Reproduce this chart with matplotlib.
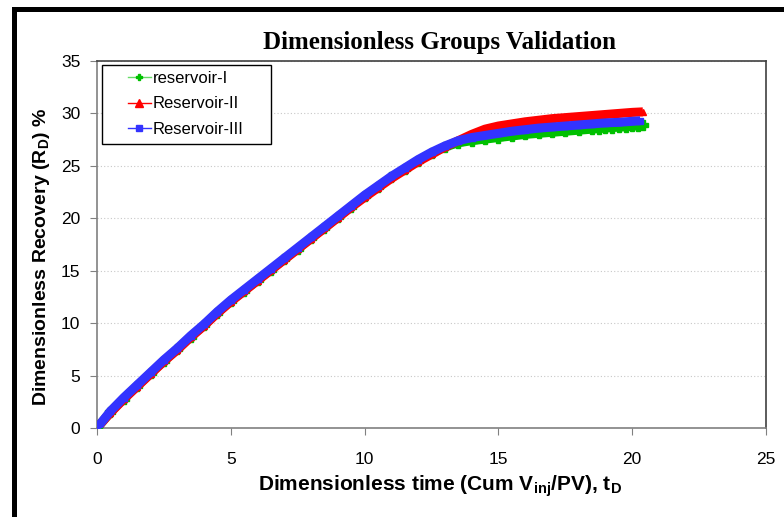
import matplotlib
matplotlib.use("Agg")
import matplotlib.pyplot as plt
from matplotlib.patches import Rectangle

plt.rcParams["font.family"] = ["Liberation Sans", "DejaVu Sans"]
plt.rcParams["mathtext.fontset"] = "custom"
plt.rcParams["mathtext.bf"] = "Liberation Sans:bold"
plt.rcParams["mathtext.rm"] = "Liberation Sans"

# Data
x_res1 = [0, 0.5, 1, 1.5, 2, 2.5, 3, 3.5, 4, 4.5, 5, 5.5, 6, 6.5, 7, 7.5, 8, 8.5, 9, 9.5,
          10, 10.5, 11, 11.5, 12, 12.5, 13, 13.5, 14, 14.5, 15, 15.5, 16, 16.5, 17, 17.5,
          18, 18.5, 18.75, 19, 19.25, 19.5, 19.75, 20, 20.2, 20.4]
y_res1 = [0, 1.5, 2.8, 4.0, 5.2, 6.4, 7.5, 8.7, 9.8, 11.0, 12.1, 13.1, 14.1, 15.1, 16.1, 17.1,
          18.1, 19.1, 20.1, 21.1, 22.1, 23.0, 23.9, 24.7, 25.5, 26.2, 26.8, 27.2, 27.4, 27.55,
          27.7, 27.85, 28.0, 28.1, 28.2, 28.3, 28.4, 28.5, 28.55, 28.6, 28.65, 28.7, 28.72,
          28.78, 28.82, 28.85]

x_res2 = [0, 0.5, 1, 1.5, 2, 2.5, 3, 3.5, 4, 4.5, 5, 5.5, 6, 6.5, 7, 7.5, 8, 8.5, 9, 9.5,
          10, 10.5, 11, 11.5, 12, 12.5, 13, 13.5, 14, 14.5, 15, 15.5, 16, 16.5, 17, 17.5,
          18, 18.5, 19, 19.5, 20, 20.4]
y_res2 = [0, 1.45, 2.75, 3.95, 5.15, 6.35, 7.45, 8.65, 9.75, 10.95, 12.05, 13.05, 14.05, 15.05,
          16.05, 17.05, 18.05, 19.05, 20.05, 21.05, 22.0, 22.9, 23.8, 24.6, 25.4, 26.1, 26.8,
          27.4, 28.0, 28.5, 28.8, 29.0, 29.2, 29.35, 29.5, 29.6, 29.7, 29.8, 29.9, 30.0, 30.1,
          30.15]

x_res3 = [0, 0.5, 1, 1.5, 2, 2.5, 3, 3.5, 4, 4.5, 5, 5.5, 6, 6.5, 7, 7.5, 8, 8.5, 9, 9.5,
          10, 10.5, 11, 11.5, 12, 12.5, 13, 13.5, 14, 14.5, 15, 15.5, 16, 16.5, 17, 17.5,
          18, 18.5, 19, 19.5, 20, 20.3]
y_res3 = [0, 1.6, 2.9, 4.1, 5.3, 6.5, 7.6, 8.8, 9.9, 11.1, 12.2, 13.2, 14.2, 15.2, 16.2, 17.2,
          18.2, 19.2, 20.2, 21.2, 22.2, 23.1, 24.0, 24.8, 25.6, 26.3, 26.9, 27.4, 27.7, 27.9,
          28.1, 28.3, 28.45, 28.6, 28.7, 28.8, 28.9, 29.0, 29.1, 29.15, 29.25, 29.3]

W, H = 784, 517
fig = plt.figure(figsize=(W / 100, H / 100), dpi=100)
ax = fig.add_axes([97 / W, 1 - 428 / H, (766 - 97) / W, (428 - 61) / H])

ax.plot(x_res1, y_res1, color="#00c000", lw=6.5, solid_capstyle="butt", zorder=3)
ax.plot(x_res1, y_res1, color="#00c000", ls="none", marker="P", ms=7, zorder=3)
ax.plot(x_res2, y_res2, color="#ff0000", lw=6.5, solid_capstyle="butt", zorder=4)
ax.plot(x_res2, y_res2, color="#ff0000", ls="none", marker="^", ms=5, zorder=4)
ax.plot(x_res3, y_res3, color="#3333ff", lw=6.5, solid_capstyle="butt", zorder=5)
ax.plot(x_res3, y_res3, color="#3333ff", ls="none", marker="s", ms=5, zorder=5)

# legend handles
h1, = ax.plot([], [], color="#66dd66", lw=1, marker="P", mfc="#00c000", mec="#00c000", ms=5)
h2, = ax.plot([], [], color="#ff0000", lw=1, marker="^", mfc="#ff0000", mec="#ff0000", ms=6)
h3, = ax.plot([], [], color="#3333ff", lw=1, marker="s", mfc="#3333ff", mec="#3333ff", ms=5)
leg = fig.legend([h1, h2, h3], ["reservoir-I", "Reservoir-II", "Reservoir-III"],
                 loc="upper left", bbox_to_anchor=(128 / W, 1 - 71 / H),
                 fontsize=12, frameon=False, handlelength=1.35, handletextpad=0.15,
                 borderpad=0, borderaxespad=0, labelspacing=0.62)
# legend frame
fig.add_artist(Rectangle((102 / W, 1 - 144 / H), (271 - 102) / W, (144 - 65) / H,
                         transform=fig.transFigure, facecolor="white", edgecolor="black",
                         lw=1.0, zorder=2))
leg.set_zorder(3)

ax.set_xlim(0, 25)
ax.set_ylim(0, 35)
ax.set_xticks(range(0, 26, 5))
ax.set_yticks(range(0, 36, 5))
ax.tick_params(labelsize=12.5, direction="out", length=5, color="#808080")
ax.tick_params(axis="x", pad=12)
ax.tick_params(axis="y", pad=7)
ax.yaxis.grid(True, linestyle=(0, (1, 2)), color="#c8c8c8", lw=0.8)
ax.set_axisbelow(True)

for side in ["left", "bottom"]:
    ax.spines[side].set_color("#808080")
    ax.spines[side].set_linewidth(1.2)
for side in ["top", "right"]:
    ax.spines[side].set_color("#404040")
    ax.spines[side].set_linewidth(1.2)

ax.set_title("Dimensionless Groups Validation", family="Liberation Serif",
             fontweight="bold", fontsize=18, x=0.512, pad=9)
ax.set_xlabel(r"Dimensionless time (Cum V$_{\mathbf{inj}}$/PV), t$_{\mathbf{D}}$",
              fontsize=15, fontweight="bold", labelpad=5)
ax.set_ylabel(r"Dimensionless Recovery (R$_{\mathbf{D}}$) %",
              fontsize=14, fontweight="bold", labelpad=6)
ax.xaxis.label.set_x(0.513)
ax.yaxis.label.set_y(0.466)

# black frame lines at left and top of the picture
fig.add_artist(Rectangle((12 / W, 0), 5 / W, 1 - 7 / H, transform=fig.transFigure,
                         color="black", lw=0))
fig.add_artist(Rectangle((12 / W, 1 - 12 / H), 1 - 12 / W, 5 / H, transform=fig.transFigure,
                         color="black", lw=0))

fig.savefig("out.png", dpi=100)
